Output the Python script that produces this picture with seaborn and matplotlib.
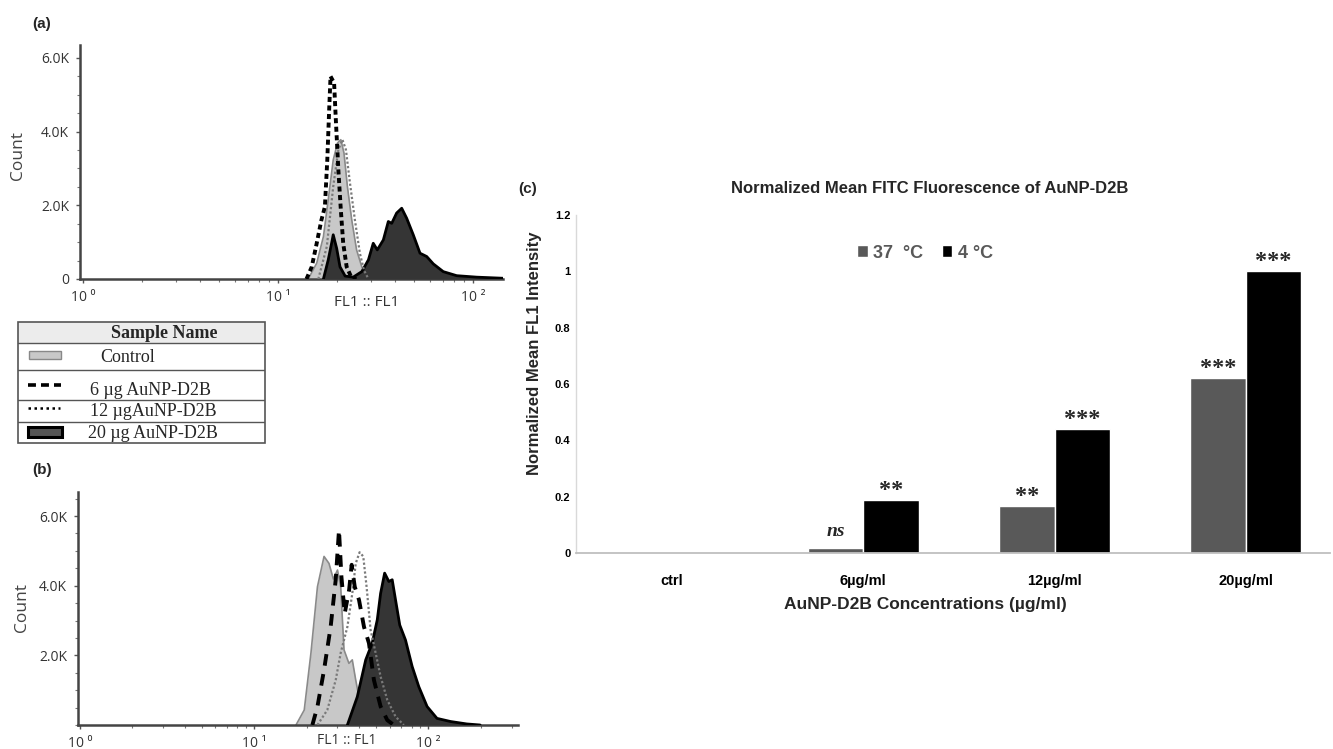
import matplotlib
matplotlib.use("Agg")
import numpy as np
import pandas as pd
import matplotlib.pyplot as plt
import seaborn as sns
from matplotlib.patches import Rectangle
from matplotlib.ticker import AutoMinorLocator

W, H = 1333, 749

# ---------------- data ----------------
# (a) flow histograms, FL1 value vs count
a_ctrl_x = [14.3, 15.8, 17.1, 18.1, 19.2, 20.2, 21.0, 21.8, 22.7, 23.9, 25.3, 26.9, 29.1, 30.8]
a_ctrl_y = [0, 430, 1150, 2150, 3230, 3690, 3780, 3420, 2510, 1600, 790, 330, 60, 0]
a_6_x = [14.0, 14.9, 15.8, 16.7, 17.4, 17.9, 18.3, 18.6, 19.4, 19.8, 20.4, 21.0, 21.6, 22.5, 23.9, 25.3]
a_6_y = [0, 330, 970, 1600, 1960, 3230, 4590, 5500, 5320, 4320, 2960, 1880, 970, 330, 20, 0]
a_12_x = [16.1, 17.8, 19.2, 20.4, 21.4, 22.3, 23.4, 24.8, 26.3, 27.6, 29.1]
a_12_y = [0, 880, 2510, 3510, 3780, 3510, 2600, 1600, 700, 240, 0]
a_20_x = [17.1, 18.1, 18.9, 19.2, 20.0, 20.8, 22.1, 24.3, 26.9, 29.1, 30.8, 32.3, 34.7, 36.8,
          38.3, 40.6, 43.1, 45.7, 49.4, 53.5, 57.9, 62.6, 70.4, 82.5, 104.5, 143]
a_20_y = [0, 520, 1010, 1200, 830, 330, 80, 50, 200, 520, 970, 790, 1060, 1560,
          1510, 1790, 1920, 1650, 1200, 700, 610, 410, 200, 90, 50, 20]

# (b) flow histograms
b_ctrl_x = [17.4, 19.4, 21.2, 23.1, 25.2, 26.9, 28.5, 30.1, 31.4, 32.8, 35.0, 36.6, 38.3, 40.9, 44.7, 48.5]
b_ctrl_y = [0, 430, 2070, 3970, 4840, 4640, 4190, 4450, 3970, 2160, 1770, 1870, 1290, 530, 140, 0]
b_6_x = [21.6, 23.1, 25.2, 27.5, 29.4, 30.7, 31.7, 33.1, 35.1, 36.3, 37.8, 40.0, 42.7, 45.6, 48.7, 53.2, 58.1, 63.3]
b_6_y = [0, 530, 1580, 2820, 4170, 5600, 4260, 3200, 3880, 4600, 3970, 3590, 2820, 2350, 1290, 530, 140, 0]
b_12_x = [23.1, 26.3, 29.4, 31.4, 34.3, 36.6, 38.3, 40.3, 42.3, 44.2, 46.6, 49.8, 53.2, 58.1, 64.8, 72.3]
b_12_y = [0, 430, 1290, 2070, 2820, 3780, 4640, 4960, 4840, 3970, 2730, 2070, 1390, 720, 240, 0]
b_20_x = [34.3, 39.1, 43.7, 47.6, 50.9, 53.2, 56.1, 59.3, 62.0, 64.8, 68.5, 73.9, 80.7, 88.1, 98.3, 112, 134, 166, 198]
b_20_y = [0, 810, 1870, 2350, 3020, 3780, 4360, 4120, 4170, 3590, 2870, 2440, 1680, 1100, 530, 190, 100, 30, 0]

hist_xticks = [1, 10, 100]
hist_xticklabels = ["10 \u2070", "10 \u00b9", "10 \u00b2"]
a_yticks = [0, 2000, 4000, 6000]
a_yticklabels = ["0", "2.0K", "4.0K", "6.0K"]
b_yticks = [2000, 4000, 6000]
b_yticklabels = ["2.0K", "4.0K", "6.0K"]

sample_names = ["Control", "6 \u00b5g AuNP-D2B", "12 \u00b5gAuNP-D2B", "20 \u00b5g AuNP-D2B"]

# (c) normalized mean FL1
conc = ["ctrl", "6\u00b5g/ml", "12\u00b5g/ml", "20\u00b5g/ml"]
temps = ["37  \u00b0C", "4 \u00b0C"]
v37 = [0.0, 0.018, 0.167, 0.62]
v4 = [0.0, 0.188, 0.44, 1.0]
sig37 = ["", "ns", "**", "***"]
sig4 = ["", "**", "***", "***"]
c_yticks = [0, 0.2, 0.4, 0.6, 0.8, 1.0, 1.2]
c_yticklabels = ["0", "0.2", "0.4", "0.6", "0.8", "1", "1.2"]

sns.set_theme(style="white")
plt.rcParams['font.family'] = ['Open Sans', 'DejaVu Sans']

fig = plt.figure(figsize=(W / 100, H / 100), dpi=100)


def px_box(l, t, r, b):
    return [l / W, 1 - b / H, (r - l) / W, (b - t) / H]


def fx(x):
    return x / W


def fy(y):
    return 1 - y / H


def draw_hist(ax, ctrl, d6, d12, d20, dash, xlim, ylim, yt, ytl):
    ax.set_xscale('log')
    ax.fill_between(ctrl[0], ctrl[1], color='#c8c8c8', lw=0, zorder=1)
    sns.lineplot(x=ctrl[0], y=ctrl[1], ax=ax, color='#8a8a8a', lw=1.2, zorder=2,
                 estimator=None, sort=False)
    ax.fill_between(d20[0], d20[1], color='#353535', lw=0, zorder=3)
    sns.lineplot(x=d20[0], y=d20[1], ax=ax, color='black', lw=2.0, zorder=4,
                 estimator=None, sort=False)
    sns.lineplot(x=d12[0], y=d12[1], ax=ax, color='#7a7a7a', lw=1.6, zorder=5,
                 linestyle=(0, (1, 1)), estimator=None, sort=False)
    sns.lineplot(x=d6[0], y=d6[1], ax=ax, color='black', lw=2.8, zorder=6,
                 linestyle=(0, dash), estimator=None, sort=False)
    ax.set_xlim(*xlim)
    ax.set_ylim(*ylim)
    ax.set_xticks(hist_xticks)
    ax.set_xticklabels(hist_xticklabels)
    ax.set_yticks(yt)
    ax.set_yticklabels(ytl)
    ax.yaxis.set_minor_locator(AutoMinorLocator(4))
    for s in ['top', 'right']:
        ax.spines[s].set_visible(False)
    for s in ['left', 'bottom']:
        ax.spines[s].set_color('#444444')
        ax.spines[s].set_linewidth(1.8)
    ax.tick_params(which='major', bottom=True, left=True, length=3, width=1,
                   color='#555555', labelsize=10, labelcolor='#333333', pad=5)
    ax.tick_params(which='minor', bottom=True, left=True, length=2, width=0.8,
                   color='#777777')
    ax.set_xlabel("")
    ax.set_ylabel("")


# ---- panel (a)
ax_a = fig.add_axes(px_box(80, 45, 503, 279))
draw_hist(ax_a, (a_ctrl_x, a_ctrl_y), (a_6_x, a_6_y), (a_12_x, a_12_y), (a_20_x, a_20_y),
          (1.3, 0.9), (10 ** -0.0154, 10 ** 2.154), (0, 6350), a_yticks, a_yticklabels)
fig.text(fx(42), fy(24), "(a)", fontweight='bold', fontsize=11, ha='center', va='center',
         family='Liberation Sans')
fig.text(fx(18), fy(155), "Count", rotation=90, ha='center', va='center', fontsize=12.5,
         color='#444444')
fig.text(fx(367), fy(303), "FL1 :: FL1", ha='center', va='center', fontsize=11, color='#333333')

# ---- panel (b)
ax_b = fig.add_axes(px_box(78, 492, 518, 725))
draw_hist(ax_b, (b_ctrl_x, b_ctrl_y), (b_6_x, b_6_y), (b_12_x, b_12_y), (b_20_x, b_20_y),
          (3.0, 2.2), (10 ** -0.01, 10 ** 2.514), (0, 6690), b_yticks, b_yticklabels)
fig.text(fx(42), fy(470), "(b)", fontweight='bold', fontsize=11, ha='center', va='center',
         family='Liberation Sans')
fig.text(fx(22), fy(607), "Count", rotation=90, ha='center', va='center', fontsize=12.5,
         color='#444444')
fig.text(fx(347), fy(741), "FL1 :: FL1", ha='center', va='center', fontsize=10, color='#333333')

# ---- sample name table
ax_t = fig.add_axes(px_box(18, 322, 265, 443))
ax_t.set_xlim(18, 265)
ax_t.set_ylim(443, 322)
ax_t.axis('off')
ax_t.add_patch(Rectangle((18, 322), 247, 21, fc='#ececec', ec='none'))
ax_t.add_patch(Rectangle((18, 322), 247, 121, fill=False, ec='#555555', lw=1.2, clip_on=False))
for yy in [343, 370, 400, 422]:
    ax_t.plot([18, 265], [yy, yy], color='#555555', lw=1)
serif = 'Liberation Serif'
ax_t.text(164, 333, "Sample Name", ha='center', va='center', fontweight='bold',
          fontsize=13, family=serif)
ax_t.add_patch(Rectangle((29, 351), 32, 8, fc='#c8c8c8', ec='#888888', lw=1))
ax_t.plot([28, 61], [385, 385], color='black', lw=2.6, ls=(0, (2.2, 1.4)))
ax_t.plot([28, 60], [408, 408], color='black', lw=1.8, ls=(0, (1, 1.4)))
ax_t.add_patch(Rectangle((28, 427), 34, 10, fc='#555555', ec='black', lw=2.2))
for name, (tx, ty) in zip(sample_names, [(100, 357), (90, 390), (90, 411), (88, 433)]):
    ax_t.text(tx, ty, name, ha='left', va='center', fontsize=13, family=serif)

# ---- panel (c)
ax_c = fig.add_axes(px_box(576, 215, 1330, 553))
df = pd.DataFrame({
    "conc": conc * 2,
    "temp": [temps[0]] * len(conc) + [temps[1]] * len(conc),
    "value": v37 + v4,
})
sns.barplot(data=df, x="conc", y="value", hue="temp", hue_order=temps, order=conc,
            palette=["#595959", "#000000"], width=0.58, gap=0, saturation=1,
            errorbar=None, ax=ax_c)
ax_c.set_xlim(-0.502, 3.44)
ax_c.set_ylim(0, 1.2)
ax_c.set_yticks(c_yticks)
ax_c.set_yticklabels(c_yticklabels)
ax_c.set_xlabel("")
ax_c.set_ylabel("")
for s in ['top', 'right']:
    ax_c.spines[s].set_visible(False)
ax_c.spines['left'].set_color('#d9d9d9')
ax_c.spines['left'].set_linewidth(1)
ax_c.spines['bottom'].set_color('#bfbfbf')
ax_c.spines['bottom'].set_linewidth(1.3)
ax_c.tick_params(axis='y', length=0, pad=4, labelsize=8)
ax_c.tick_params(axis='x', length=0, pad=15, labelsize=10.5)
for lab in ax_c.get_yticklabels() + ax_c.get_xticklabels():
    lab.set_fontweight('bold')
    lab.set_family('Liberation Sans')
    lab.set_color('black')

for cont, sigs in zip(ax_c.containers, [sig37, sig4]):
    for bar, s in zip(cont, sigs):
        if not s:
            continue
        xc = bar.get_x() + bar.get_width() / 2
        if s == "ns":
            ax_c.annotate(s, (xc, bar.get_height()), xytext=(0, 12),
                          textcoords='offset points', ha='center', va='center',
                          fontsize=14, fontweight='bold', style='italic', family=serif)
        else:
            ax_c.annotate(s, (xc, bar.get_height()), xytext=(0, 7),
                          textcoords='offset points', ha='center', va='center',
                          fontsize=17.5, fontweight='bold', family=serif)

handles, labels = ax_c.get_legend_handles_labels()
ax_c.legend(handles, labels, loc='center', bbox_to_anchor=(fx(925), fy(253)),
            bbox_transform=fig.transFigure, ncol=2, frameon=False,
            handlelength=0.6, handleheight=0.6, handletextpad=0.3, columnspacing=1.0,
            prop=dict(family='Liberation Sans', weight='bold', size=13),
            labelcolor='#595959')

fig.text(fx(528), fy(189), "(c)", fontweight='bold', fontsize=11, ha='center', va='center',
         family='Liberation Sans')
fig.text(fx(930), fy(189), "Normalized Mean FITC Fluorescence of AuNP-D2B", ha='center',
         va='center', fontweight='bold', fontsize=12, family='Liberation Sans')
fig.text(fx(535), fy(353), "Normalized Mean FL1 Intensity", rotation=90, ha='center',
         va='center', fontweight='bold', fontsize=12, family='Liberation Sans')
fig.text(fx(925), fy(605), "AuNP-D2B Concentrations (\u00b5g/ml)", ha='center', va='center',
         fontweight='bold', fontsize=12.5, family='Liberation Sans')

fig.savefig("out.png", dpi=100)
